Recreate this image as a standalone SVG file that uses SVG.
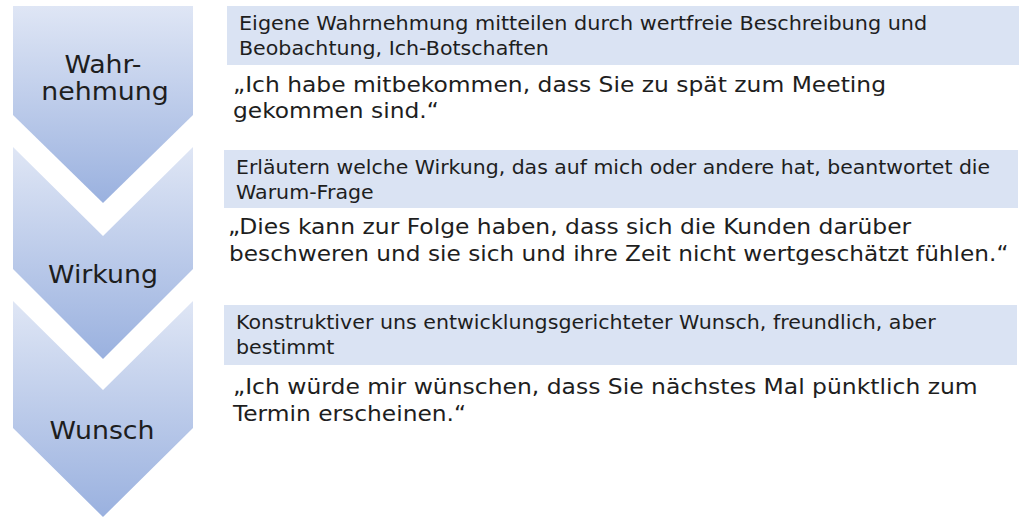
<svg xmlns="http://www.w3.org/2000/svg" width="1024" height="525" viewBox="0 0 1024 525">
<defs>
<linearGradient id="g" x1="0" y1="0" x2="0" y2="1">
<stop offset="0" stop-color="#dfe6f5"/>
<stop offset="1" stop-color="#9ab1df"/>
</linearGradient>
<style>
.chev{fill:url(#g);}
.box{fill:#dae3f3;}
text{font-family:"DejaVu Sans","Open Sans",sans-serif;fill:#1e1e1e;}
.lbl{font-size:25.5px;text-anchor:middle;}
.small{font-size:18.8px;}
.quote{font-size:21.5px;}
</style>
</defs>
<rect width="1024" height="525" fill="#ffffff"/>
<g id="chevron-wahrnehmung">
<polygon class="chev" points="13,6 193,6 193,115 103,203 13,115"/>
<text class="lbl" transform="translate(103,73) scale(1.05,1)">Wahr-</text>
<text class="lbl" transform="translate(105,100) scale(1.05,1)">nehmung</text>
</g>
<g id="chevron-wirkung">
<polygon class="chev" points="13,147 103,236 193,147 193,269 103,359 13,269"/>
<text class="lbl" transform="translate(103,283) scale(1.05,1)">Wirkung</text>
</g>
<g id="chevron-wunsch">
<polygon class="chev" points="13,301 103,390 193,301 193,428 103,517 13,428"/>
<text class="lbl" transform="translate(102,439) scale(1.05,1)">Wunsch</text>
</g>
<g id="item-wahrnehmung">
<rect class="box" x="227" y="6" width="792" height="59"/>
<text class="small" transform="translate(239,30) scale(1.105,1)">Eigene Wahrnehmung mitteilen durch wertfreie Beschreibung und</text>
<text class="small" transform="translate(239,55) scale(1.095,1)">Beobachtung, Ich-Botschaften</text>
<text class="quote" transform="translate(233,92) scale(1.089,1)">„Ich habe mitbekommen, dass Sie zu spät zum Meeting</text>
<text class="quote" transform="translate(233,118) scale(1.085,1)">gekommen sind.“</text>
</g>
<g id="item-wirkung">
<rect class="box" x="224" y="150" width="794" height="58"/>
<text class="small" transform="translate(236,174) scale(1.088,1)">Erläutern welche Wirkung, das auf mich oder andere hat, beantwortet die</text>
<text class="small" transform="translate(236,199) scale(1.095,1)">Warum-Frage</text>
<text class="quote" transform="translate(228,234) scale(1.09,1)">„Dies kann zur Folge haben, dass sich die Kunden darüber</text>
<text class="quote" transform="translate(229,261) scale(1.081,1)">beschweren und sie sich und ihre Zeit nicht wertgeschätzt fühlen.“</text>
</g>
<g id="item-wunsch">
<rect class="box" x="224" y="305" width="793" height="60"/>
<text class="small" transform="translate(236,329) scale(1.095,1)">Konstruktiver uns entwicklungsgerichteter Wunsch, freundlich, aber</text>
<text class="small" transform="translate(236,354) scale(1.095,1)">bestimmt</text>
<text class="quote" transform="translate(233,394) scale(1.091,1)">„Ich würde mir wünschen, dass Sie nächstes Mal pünktlich zum</text>
<text class="quote" transform="translate(233,421) scale(1.085,1)">Termin erscheinen.“</text>
</g>
<g id="connectors"/>
</svg>
